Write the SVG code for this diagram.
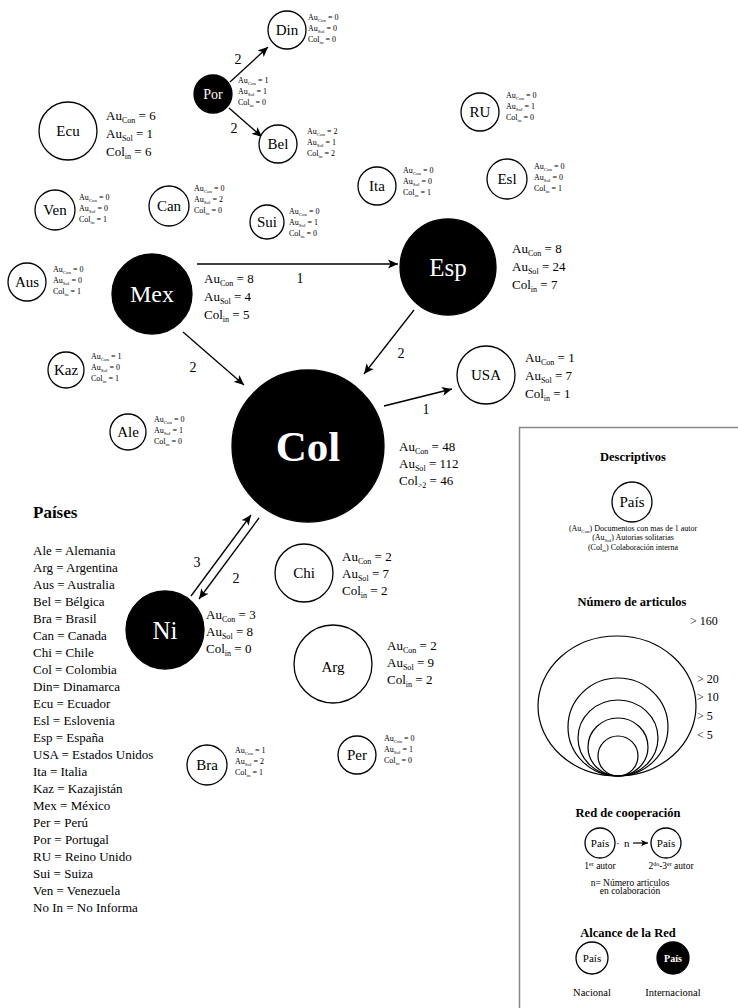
<svg xmlns="http://www.w3.org/2000/svg" width="738" height="1008" viewBox="0 0 738 1008">
<defs>
<marker id="ah" viewBox="0 0 10 10" refX="10" refY="5" markerWidth="10" markerHeight="10" markerUnits="userSpaceOnUse" orient="auto"><path d="M0,0.5 L10,5 L0,9.5 L2.5,5 z" fill="#000"/></marker>
<marker id="ahs" viewBox="0 0 10 10" refX="10" refY="5" markerWidth="7" markerHeight="7" markerUnits="userSpaceOnUse" orient="auto"><path d="M0,0.5 L10,5 L0,9.5 L2.5,5 z" fill="#000"/></marker>
</defs>
<style>
text{font-family:"Liberation Serif","Times New Roman",serif;fill:#000}
.w{fill:#fff;stroke:#000;stroke-width:1.3}
.k{fill:#000;stroke:#000;stroke-width:1.3}
.nm{font-size:15px;text-anchor:middle}
.nw{fill:#fff;text-anchor:middle}
.s{font-size:8px}
.l{font-size:13px}
.sb{font-size:0.62em}
.e{stroke:#000;stroke-width:1.3;fill:none;marker-end:url(#ah)}
.el{font-size:14px;text-anchor:middle}
.lg{text-anchor:middle}
.h{font-weight:bold;text-anchor:middle;font-size:12.5px}
.li{font-size:13px}
</style>
<rect width="738" height="1008" fill="#fff"/>

<g id="connectors">
<line class="e" x1="230" y1="82" x2="268" y2="47"/>
<text class="el" x="238" y="64">2</text>
<line class="e" x1="229" y1="108" x2="262" y2="137"/>
<text class="el" x="234" y="133">2</text>
<line class="e" x1="197" y1="264" x2="398" y2="264"/>
<text class="el" x="300" y="283">1</text>
<line class="e" x1="414" y1="310" x2="364" y2="374"/>
<text class="el" x="401" y="358">2</text>
<line class="e" x1="183" y1="332" x2="244" y2="385"/>
<text class="el" x="193" y="372">2</text>
<line class="e" x1="384" y1="406" x2="452" y2="389"/>
<text class="el" x="426" y="414">1</text>
<line class="e" x1="191" y1="596" x2="251" y2="515"/>
<text class="el" x="197" y="567">3</text>
<line class="e" x1="259" y1="518" x2="199" y2="599"/>
<text class="el" x="236" y="583">2</text>
</g>

<g id="node-din"><circle class="w" cx="287" cy="30" r="19"/><text class="nm" x="287" y="35">Din</text>
<text class="s" x="308" y="20">Au<tspan class="sb" dy="1.5">Con</tspan><tspan dy="-1.5"> = 0</tspan></text>
<text class="s" x="308" y="31">Au<tspan class="sb" dy="1.5">Sol</tspan><tspan dy="-1.5"> = 0</tspan></text>
<text class="s" x="308" y="42">Col<tspan class="sb" dy="1.5">in</tspan><tspan dy="-1.5"> = 0</tspan></text></g>

<g id="node-por"><circle class="k" cx="213" cy="94" r="19"/><text class="nw" x="213" y="99" font-size="14">Por</text>
<text class="s" x="238" y="83">Au<tspan class="sb" dy="1.5">Con</tspan><tspan dy="-1.5"> = 1</tspan></text>
<text class="s" x="238" y="94">Au<tspan class="sb" dy="1.5">Sol</tspan><tspan dy="-1.5"> = 1</tspan></text>
<text class="s" x="238" y="105">Col<tspan class="sb" dy="1.5">in</tspan><tspan dy="-1.5"> = 0</tspan></text></g>

<g id="node-bel"><circle class="w" cx="278" cy="144" r="19"/><text class="nm" x="278" y="149">Bel</text>
<text class="s" x="307" y="134">Au<tspan class="sb" dy="1.5">Con</tspan><tspan dy="-1.5"> = 2</tspan></text>
<text class="s" x="307" y="145">Au<tspan class="sb" dy="1.5">Sol</tspan><tspan dy="-1.5"> = 1</tspan></text>
<text class="s" x="307" y="156">Col<tspan class="sb" dy="1.5">in</tspan><tspan dy="-1.5"> = 2</tspan></text></g>

<g id="node-ecu"><circle class="w" cx="68" cy="131" r="29"/><text class="nm" x="68" y="136">Ecu</text>
<text class="l" x="106" y="120">Au<tspan class="sb" dy="3">Con</tspan><tspan dy="-3"> = 6</tspan></text>
<text class="l" x="106" y="138">Au<tspan class="sb" dy="3">Sol</tspan><tspan dy="-3"> = 1</tspan></text>
<text class="l" x="106" y="156">Col<tspan class="sb" dy="3">in</tspan><tspan dy="-3"> = 6</tspan></text></g>

<g id="node-ven"><circle class="w" cx="55" cy="210" r="20"/><text class="nm" x="55" y="215">Ven</text>
<text class="s" x="79" y="200">Au<tspan class="sb" dy="1.5">Con</tspan><tspan dy="-1.5"> = 0</tspan></text>
<text class="s" x="79" y="211">Au<tspan class="sb" dy="1.5">Sol</tspan><tspan dy="-1.5"> = 0</tspan></text>
<text class="s" x="79" y="222">Col<tspan class="sb" dy="1.5">in</tspan><tspan dy="-1.5"> = 1</tspan></text></g>

<g id="node-can"><circle class="w" cx="169" cy="206" r="20"/><text class="nm" x="169" y="211">Can</text>
<text class="s" x="194" y="191">Au<tspan class="sb" dy="1.5">Con</tspan><tspan dy="-1.5"> = 0</tspan></text>
<text class="s" x="194" y="202">Au<tspan class="sb" dy="1.5">Sol</tspan><tspan dy="-1.5"> = 2</tspan></text>
<text class="s" x="194" y="213">Col<tspan class="sb" dy="1.5">in</tspan><tspan dy="-1.5"> = 0</tspan></text></g>

<g id="node-sui"><circle class="w" cx="267" cy="222" r="17"/><text class="nm" x="267" y="227">Sui</text>
<text class="s" x="289" y="214">Au<tspan class="sb" dy="1.5">Con</tspan><tspan dy="-1.5"> = 0</tspan></text>
<text class="s" x="289" y="225">Au<tspan class="sb" dy="1.5">Sol</tspan><tspan dy="-1.5"> = 1</tspan></text>
<text class="s" x="289" y="236">Col<tspan class="sb" dy="1.5">in</tspan><tspan dy="-1.5"> = 0</tspan></text></g>

<g id="node-ita"><circle class="w" cx="377" cy="186" r="19"/><text class="nm" x="377" y="191">Ita</text>
<text class="s" x="403" y="173">Au<tspan class="sb" dy="1.5">Con</tspan><tspan dy="-1.5"> = 0</tspan></text>
<text class="s" x="403" y="184">Au<tspan class="sb" dy="1.5">Sol</tspan><tspan dy="-1.5"> = 0</tspan></text>
<text class="s" x="403" y="195">Col<tspan class="sb" dy="1.5">in</tspan><tspan dy="-1.5"> = 1</tspan></text></g>

<g id="node-ru"><circle class="w" cx="480" cy="112" r="19"/><text class="nm" x="480" y="117">RU</text>
<text class="s" x="506" y="98">Au<tspan class="sb" dy="1.5">Con</tspan><tspan dy="-1.5"> = 0</tspan></text>
<text class="s" x="506" y="109">Au<tspan class="sb" dy="1.5">Sol</tspan><tspan dy="-1.5"> = 1</tspan></text>
<text class="s" x="506" y="120">Col<tspan class="sb" dy="1.5">in</tspan><tspan dy="-1.5"> = 0</tspan></text></g>

<g id="node-esl"><circle class="w" cx="507" cy="179" r="20"/><text class="nm" x="507" y="184">Esl</text>
<text class="s" x="534" y="169">Au<tspan class="sb" dy="1.5">Con</tspan><tspan dy="-1.5"> = 0</tspan></text>
<text class="s" x="534" y="180">Au<tspan class="sb" dy="1.5">Sol</tspan><tspan dy="-1.5"> = 0</tspan></text>
<text class="s" x="534" y="191">Col<tspan class="sb" dy="1.5">in</tspan><tspan dy="-1.5"> = 1</tspan></text></g>

<g id="node-aus"><circle class="w" cx="27" cy="282" r="19"/><text class="nm" x="27" y="287">Aus</text>
<text class="s" x="53" y="272">Au<tspan class="sb" dy="1.5">Con</tspan><tspan dy="-1.5"> = 0</tspan></text>
<text class="s" x="53" y="283">Au<tspan class="sb" dy="1.5">Sol</tspan><tspan dy="-1.5"> = 0</tspan></text>
<text class="s" x="53" y="294">Col<tspan class="sb" dy="1.5">in</tspan><tspan dy="-1.5"> = 1</tspan></text></g>

<g id="node-mex"><circle class="k" cx="152" cy="294" r="40"/><text class="nw" x="152" y="302" font-size="24">Mex</text>
<text class="l" x="204" y="283">Au<tspan class="sb" dy="3">Con</tspan><tspan dy="-3"> = 8</tspan></text>
<text class="l" x="204" y="301">Au<tspan class="sb" dy="3">Sol</tspan><tspan dy="-3"> = 4</tspan></text>
<text class="l" x="204" y="319">Col<tspan class="sb" dy="3">in</tspan><tspan dy="-3"> = 5</tspan></text></g>

<g id="node-esp"><circle class="k" cx="448" cy="267" r="48"/><text class="nw" x="448" y="276" font-size="25">Esp</text>
<text class="l" x="512" y="253">Au<tspan class="sb" dy="3">Con</tspan><tspan dy="-3"> = 8</tspan></text>
<text class="l" x="512" y="271">Au<tspan class="sb" dy="3">Sol</tspan><tspan dy="-3"> = 24</tspan></text>
<text class="l" x="512" y="289">Col<tspan class="sb" dy="3">in</tspan><tspan dy="-3"> = 7</tspan></text></g>

<g id="node-kaz"><circle class="w" cx="66" cy="370" r="18"/><text class="nm" x="66" y="375">Kaz</text>
<text class="s" x="91" y="359">Au<tspan class="sb" dy="1.5">Con</tspan><tspan dy="-1.5"> = 1</tspan></text>
<text class="s" x="91" y="370">Au<tspan class="sb" dy="1.5">Sol</tspan><tspan dy="-1.5"> = 0</tspan></text>
<text class="s" x="91" y="381">Col<tspan class="sb" dy="1.5">in</tspan><tspan dy="-1.5"> = 1</tspan></text></g>

<g id="node-ale"><circle class="w" cx="128" cy="432" r="18"/><text class="nm" x="128" y="437">Ale</text>
<text class="s" x="154" y="422">Au<tspan class="sb" dy="1.5">Con</tspan><tspan dy="-1.5"> = 0</tspan></text>
<text class="s" x="154" y="433">Au<tspan class="sb" dy="1.5">Sol</tspan><tspan dy="-1.5"> = 1</tspan></text>
<text class="s" x="154" y="444">Col<tspan class="sb" dy="1.5">in</tspan><tspan dy="-1.5"> = 0</tspan></text></g>

<g id="node-col"><circle class="k" cx="308" cy="446" r="76"/><text class="nw" x="308" y="461" font-size="43" font-weight="bold">Col</text>
<text class="l" x="399" y="451">Au<tspan class="sb" dy="3">Con</tspan><tspan dy="-3"> = 48</tspan></text>
<text class="l" x="399" y="468">Au<tspan class="sb" dy="3">Sol</tspan><tspan dy="-3"> = 112</tspan></text>
<text class="l" x="399" y="485">Col<tspan class="sb" dy="3">&gt;2</tspan><tspan dy="-3"> = 46</tspan></text></g>

<g id="node-usa"><circle class="w" cx="486" cy="375" r="29"/><text class="nm" x="486" y="380">USA</text>
<text class="l" x="525" y="362">Au<tspan class="sb" dy="3">Con</tspan><tspan dy="-3"> = 1</tspan></text>
<text class="l" x="525" y="380">Au<tspan class="sb" dy="3">Sol</tspan><tspan dy="-3"> = 7</tspan></text>
<text class="l" x="525" y="398">Col<tspan class="sb" dy="3">in</tspan><tspan dy="-3"> = 1</tspan></text></g>

<g id="node-ni"><circle class="k" cx="165" cy="630" r="39"/><text class="nw" x="165" y="639" font-size="25">Ni</text>
<text class="l" x="206" y="619">Au<tspan class="sb" dy="3">Con</tspan><tspan dy="-3"> = 3</tspan></text>
<text class="l" x="206" y="636">Au<tspan class="sb" dy="3">Sol</tspan><tspan dy="-3"> = 8</tspan></text>
<text class="l" x="206" y="653">Col<tspan class="sb" dy="3">in</tspan><tspan dy="-3"> = 0</tspan></text></g>

<g id="node-chi"><circle class="w" cx="304" cy="573" r="29"/><text class="nm" x="304" y="578">Chi</text>
<text class="l" x="342" y="561">Au<tspan class="sb" dy="3">Con</tspan><tspan dy="-3"> = 2</tspan></text>
<text class="l" x="342" y="578">Au<tspan class="sb" dy="3">Sol</tspan><tspan dy="-3"> = 7</tspan></text>
<text class="l" x="342" y="595">Col<tspan class="sb" dy="3">in</tspan><tspan dy="-3"> = 2</tspan></text></g>

<g id="node-arg"><circle class="w" cx="333" cy="664" r="39"/><text class="nm" x="333" y="672" font-size="25">Arg</text>
<text class="l" x="387" y="650">Au<tspan class="sb" dy="3">Con</tspan><tspan dy="-3"> = 2</tspan></text>
<text class="l" x="387" y="667">Au<tspan class="sb" dy="3">Sol</tspan><tspan dy="-3"> = 9</tspan></text>
<text class="l" x="387" y="684">Col<tspan class="sb" dy="3">in</tspan><tspan dy="-3"> = 2</tspan></text></g>

<g id="node-bra"><circle class="w" cx="207" cy="765" r="20"/><text class="nm" x="207" y="770">Bra</text>
<text class="s" x="235" y="753">Au<tspan class="sb" dy="1.5">Con</tspan><tspan dy="-1.5"> = 1</tspan></text>
<text class="s" x="235" y="764">Au<tspan class="sb" dy="1.5">Sol</tspan><tspan dy="-1.5"> = 2</tspan></text>
<text class="s" x="235" y="775">Col<tspan class="sb" dy="1.5">in</tspan><tspan dy="-1.5"> = 1</tspan></text></g>

<g id="node-per"><circle class="w" cx="357" cy="755" r="19"/><text class="nm" x="357" y="760">Per</text>
<text class="s" x="384" y="741">Au<tspan class="sb" dy="1.5">Con</tspan><tspan dy="-1.5"> = 0</tspan></text>
<text class="s" x="384" y="752">Au<tspan class="sb" dy="1.5">Sol</tspan><tspan dy="-1.5"> = 1</tspan></text>
<text class="s" x="384" y="763">Col<tspan class="sb" dy="1.5">in</tspan><tspan dy="-1.5"> = 0</tspan></text></g>

<g id="paises">
<text x="33" y="518" font-size="17" font-weight="bold">Países</text>
<g class="li">
<text x="33" y="555">Ale = Alemania</text>
<text x="33" y="572">Arg = Argentina</text>
<text x="33" y="589">Aus = Australia</text>
<text x="33" y="606">Bel = Bélgica</text>
<text x="33" y="623">Bra = Brasil</text>
<text x="33" y="640">Can = Canada</text>
<text x="33" y="657">Chi = Chile</text>
<text x="33" y="674">Col = Colombia</text>
<text x="33" y="691">Din= Dinamarca</text>
<text x="33" y="708">Ecu = Ecuador</text>
<text x="33" y="725">Esl = Eslovenia</text>
<text x="33" y="742">Esp = España</text>
<text x="33" y="759">USA = Estados Unidos</text>
<text x="33" y="776">Ita = Italia</text>
<text x="33" y="793">Kaz = Kazajistán</text>
<text x="33" y="810">Mex = México</text>
<text x="33" y="827">Per = Perú</text>
<text x="33" y="844">Por = Portugal</text>
<text x="33" y="861">RU = Reino Unido</text>
<text x="33" y="878">Sui = Suiza</text>
<text x="33" y="895">Ven = Venezuela</text>
<text x="33" y="912">No In = No Informa</text>
</g>
</g>

<g id="legend">
<rect x="519.5" y="427.5" width="240" height="620" fill="none" stroke="#888" stroke-width="1.5"/>
<text class="h" x="633" y="461">Descriptivos</text>
<circle class="w" cx="632" cy="502" r="20"/><text class="nm" x="632" y="507">País</text>
<text class="lg" x="633" y="531" font-size="8">(Au<tspan class="sb" dy="1.5">Con</tspan><tspan dy="-1.5">) Documentos con mas de 1 autor</tspan></text>
<text class="lg" x="633" y="540" font-size="8">(Au<tspan class="sb" dy="1.5">Sol</tspan><tspan dy="-1.5">) Autorias solitarias</tspan></text>
<text class="lg" x="633" y="550" font-size="8">(Col<tspan class="sb" dy="1.5">in</tspan><tspan dy="-1.5">) Colaboración interna</tspan></text>
<text class="h" x="632" y="606">Número de articulos</text>
<text x="690" y="625" font-size="12">&gt; 160</text>
<g fill="none" stroke="#000" stroke-width="1.2">
<ellipse cx="617" cy="706" rx="79" ry="70"/>
<ellipse cx="618" cy="727" rx="50" ry="49"/>
<ellipse cx="618" cy="738" rx="40" ry="38"/>
<ellipse cx="618" cy="747" rx="30" ry="29"/>
<ellipse cx="618" cy="756" rx="20" ry="20"/>
</g>
<text x="697" y="683" font-size="12">&gt; 20</text>
<text x="697" y="701" font-size="12">&gt; 10</text>
<text x="697" y="720" font-size="12">&gt; 5</text>
<text x="697" y="739" font-size="12">&lt; 5</text>
<text class="h" x="628" y="817">Red de cooperación</text>
<circle class="w" cx="600" cy="843" r="15"/><text class="lg" x="600" y="847" font-size="11">País</text>
<circle class="w" cx="666" cy="843" r="15"/><text class="lg" x="666" y="847" font-size="11">País</text>
<text x="616" y="847" font-size="11">·</text>
<text x="624" y="847" font-size="11">n</text>
<line x1="633" y1="843" x2="648" y2="843" stroke="#000" stroke-width="1.2" marker-end="url(#ahs)"/>
<text class="lg" x="600" y="869" font-size="9.5">1<tspan font-size="6" dy="-3">er</tspan><tspan dy="3"> autor</tspan></text>
<text class="lg" x="671" y="869" font-size="9.5">2<tspan font-size="6" dy="-3">do</tspan><tspan dy="3">-3</tspan><tspan font-size="6" dy="-3">er</tspan><tspan dy="3"> autor</tspan></text>
<text class="lg" x="630" y="886" font-size="9.5">n= Número articulos</text>
<text class="lg" x="630" y="894" font-size="9.5">en colaboración</text>
<text class="h" x="628" y="937">Alcance de la Red</text>
<circle class="w" cx="592" cy="958" r="16"/><text class="lg" x="592" y="962" font-size="11">País</text>
<circle class="k" cx="673" cy="958" r="16"/><text class="nw" x="673" y="962" font-size="10" font-weight="bold">País</text>
<text class="lg" x="592" y="996" font-size="10.5">Nacional</text>
<text class="lg" x="673" y="996" font-size="10.5">Internacional</text>
</g>
</svg>
